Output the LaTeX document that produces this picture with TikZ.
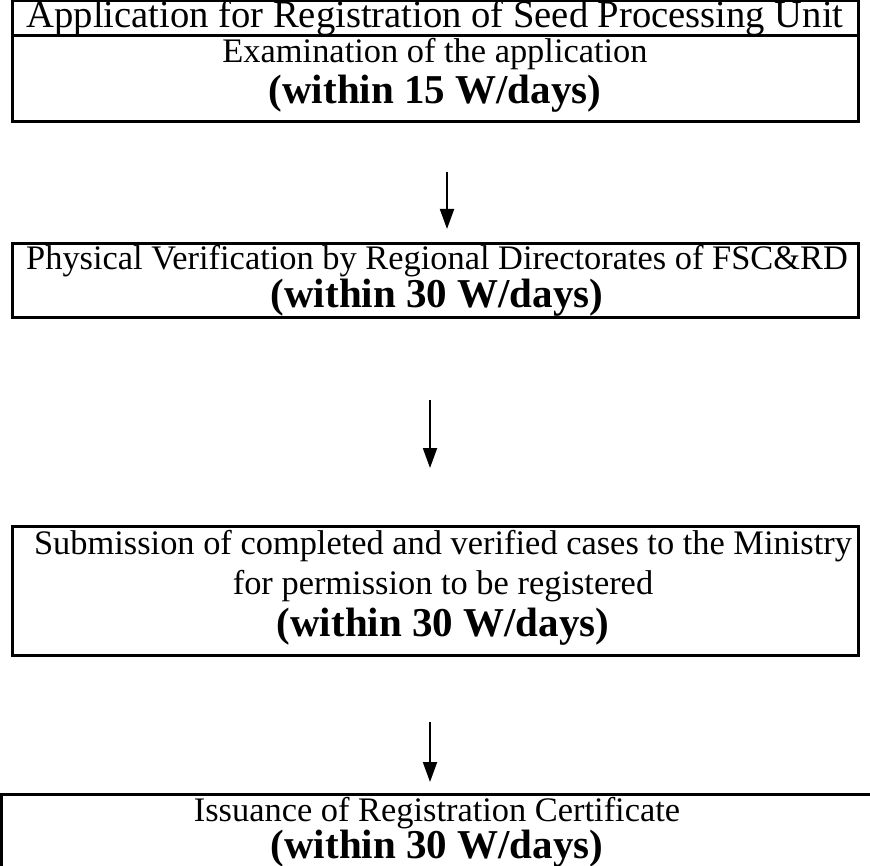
\documentclass[tikz,border=0pt]{standalone}
\usepackage{fontspec}
\setmainfont{Liberation Serif}
\usetikzlibrary{arrows.meta}

\begin{document}
\begin{tikzpicture}[x=0.5pt, y=-0.5pt, line width=1.5pt,
    head/.style={anchor=base, inner sep=0pt, font=\fontsize{19.3}{21}\selectfont},
    txt/.style={anchor=base, inner sep=0pt, font=\fontsize{17.2}{20}\selectfont},
    bold/.style={anchor=base, inner sep=0pt, font=\fontsize{20.5}{23}\selectfont\bfseries},
    arr/.style={line width=1pt, -{Triangle[width=7pt, length=10pt]}}]
  \useasboundingbox (0,0) rectangle (870,865);

  % boxes
  \draw (12,1) rectangle (858,122);
  \draw (12,36) -- (858,36);
  \draw (12,244) rectangle (858,318);
  \draw (12,526) rectangle (858,655);
  \draw (880,794) -- (1,794) -- (1,880);

  % texts
  \node[head] (t1a) at (435,28) {Application for Registration of Seed Processing Unit};
  \node[txt] (t1b) at (435,63) {Examination of the application};
  \node[bold] (t1c) at (435,104) {(within 15 W/days)};
  \node[txt] (t2a) at (437,270) {Physical Verification by Regional Directorates of FSC\&RD};
  \node[bold] (t2b) at (437,307) {(within 30 W/days)};
  \node[txt] (t3a) at (443,554) {Submission of completed and verified cases to the Ministry};
  \node[txt] (t3b) at (443,594) {for permission to be registered};
  \node[bold] (t3c) at (443,636) {(within 30 W/days)};
  \node[txt] (t4a) at (437,821) {Issuance of Registration Certificate};
  \node[bold] (t4b) at (437,858) {(within 30 W/days)};

  % arrows
  \coordinate (a1s) at (447,172);
  \coordinate (a1e) at (447,229);
  \coordinate (a2s) at (430,400);
  \coordinate (a2e) at (430,468);
  \coordinate (a3s) at (430,722);
  \coordinate (a3e) at (430,782);
  \draw[arr] (a1s) -- (a1e);
  \draw[arr] (a2s) -- (a2e);
  \draw[arr] (a3s) -- (a3e);
\end{tikzpicture}
\end{document}
